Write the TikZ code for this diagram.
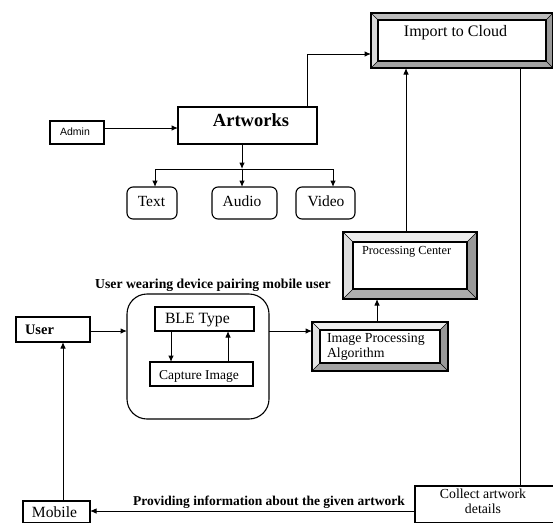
\documentclass[tikz,border=0pt]{standalone}
\usepackage{fontspec}
\setmainfont{Liberation Serif}
\newfontfamily\admfont{Liberation Sans}
\usetikzlibrary{arrows.meta,calc}
\newcommand\fsz[1]{\fontsize{#1}{#1}\selectfont}
% bevelled frame around an (empty) node: #1 name, #2 depth, #3 top, #4 left, #5 right, #6 bottom
\newcommand\bevelframe[6]{%
  \path (#1.north west) coordinate (#1o1) (#1.north east) coordinate (#1o2)
        (#1.south east) coordinate (#1o3) (#1.south west) coordinate (#1o4);
  \path ($(#1o1)+(#2,#2)$) coordinate (#1i1) ($(#1o2)+(-#2,#2)$) coordinate (#1i2)
        ($(#1o3)+(-#2,-#2)$) coordinate (#1i3) ($(#1o4)+(#2,-#2)$) coordinate (#1i4);
  \fill[#3] (#1o1)--(#1o2)--(#1i2)--(#1i1)--cycle;
  \fill[#4] (#1o1)--(#1i1)--(#1i4)--(#1o4)--cycle;
  \fill[#5] (#1o2)--(#1o3)--(#1i3)--(#1i2)--cycle;
  \fill[#6] (#1o4)--(#1i4)--(#1i3)--(#1o3)--cycle;
  \draw[line width=0.6pt] (#1o1)--(#1i1) (#1o2)--(#1i2) (#1o3)--(#1i3) (#1o4)--(#1i4);
  \draw[line width=1.1pt] (#1i1) rectangle (#1i3);
  \draw[line width=1.3pt] (#1o1) rectangle (#1o3);
}
\begin{document}
\begin{tikzpicture}[x=1pt,y=-1pt,
  box/.style={draw, line width=1.1pt, inner sep=0pt, outer sep=0pt},
  rbox/.style={box, rounded corners=6pt},
  frame/.style={inner sep=0pt, outer sep=0pt},
  lbl/.style={inner sep=0pt, outer sep=0pt, anchor=base},
  lbll/.style={inner sep=0pt, outer sep=0pt, anchor=base west},
  ln/.style={line width=1pt},
  arr/.style={ln, -{Latex[length=6.5pt,width=5.5pt]}},
]
\useasboundingbox (0,0) rectangle (553,522);

% ---------- bevelled frames ----------
\node[frame, minimum width=182pt, minimum height=55pt] (cloud) at (462,40.5) {};
\bevelframe{cloud}{7}{black!26}{black!15}{black!40}{black!36}
\node[lbl, font=\fsz{16}] (cloudt) at (455.5,36) {Import to Cloud};

\node[frame, minimum width=134pt, minimum height=67pt] (pc) at (410,265.5) {};
\bevelframe{pc}{10}{black!7}{black!13}{black!40}{black!32}
\node[lbll, font=\fsz{12.3}] (pct) at (362,254) {Processing Center};

\node[frame, minimum width=136pt, minimum height=49pt] (ipa) at (380,346.5) {};
\bevelframe{ipa}{8}{black!7}{black!11}{black!40}{black!36}
\node[lbll, font=\fsz{13.8}] (ipat1) at (327,342) {Image Processing};
\node[lbll, font=\fsz{13.8}] (ipat2) at (327,357) {Algorithm};

% ---------- plain boxes ----------
\node[box, minimum width=139pt, minimum height=37pt] (art) at (247.5,125.5) {};
\node[lbl, font=\bfseries\fsz{18.5}] (artt) at (251,126) {Artworks};

\node[box, minimum width=54pt, minimum height=23pt] (admin) at (77,132.5) {};
\node[lbl, font=\admfont\fsz{10.5}] (admint) at (75,135) {Admin};

\node[rbox, minimum width=50pt, minimum height=32pt] (txtb) at (152,203) {};
\node[lbl, font=\fsz{15.5}] (txtt) at (151.5,206) {Text};
\node[rbox, minimum width=65pt, minimum height=32pt] (aud) at (244.5,203) {};
\node[lbl, font=\fsz{15.5}] (audt) at (242,206) {Audio};
\node[rbox, minimum width=59pt, minimum height=32pt] (vid) at (325.5,203) {};
\node[lbl, font=\fsz{15.5}] (vidt) at (326,206) {Video};

\node[lbl, font=\bfseries\fsz{13.7}] (ttl) at (213,288) {User wearing device pairing mobile user};
\node[box, rounded corners=20pt, minimum width=142pt, minimum height=125pt] (rb) at (198,356.5) {};
\node[box, minimum width=99pt, minimum height=24pt] (ble) at (204.5,319) {};
\node[lbll, font=\fsz{15.7}] (blet) at (165,323) {BLE Type};
\node[box, minimum width=103pt, minimum height=24pt] (cap) at (201.5,374) {};
\node[lbl, font=\fsz{13.5}] (capt) at (199,379) {Capture Image};

\node[box, minimum width=74pt, minimum height=25pt] (user) at (53,329.5) {};
\node[lbll, font=\bfseries\fsz{14.5}] (usert) at (25,334) {User};

\node[box, minimum width=67pt, minimum height=22pt] (mob) at (56.5,512) {};
\node[lbl, font=\fsz{15.6}] (mobt) at (54.5,517) {Mobile};

\node[box, minimum width=139pt, minimum height=37pt] (col) at (484.5,504.5) {};
\node[lbl, font=\fsz{13.8}] (colt1) at (483,498) {Collect artwork};
\node[lbl, font=\fsz{13.8}] (colt2) at (483,513) {details};

% ---------- connectors ----------
\draw[arr] ($(art.north east)+(-10,0)$) |- ($(cloud.west)+(0,13.5)$);
\draw[arr] ($(admin.east)+(0,-4.5)$) coordinate (a1) -- (a1 -| art.west);
\coordinate (br) at (242,169);
\coordinate (brl) at (155,169);
\coordinate (brr) at (333,169);
\draw[arr] (art.south -| br) -- (br);
\draw[ln] (brl) -- (brr);
\draw[arr] (brl) -- (brl |- txtb.north);
\draw[arr] (br) -- (br |- aud.north);
\draw[arr] (brr) -- (brr |- vid.north);

\draw[arr] ($(pc.north)+(-4,0)$) coordinate (p1) -- (p1 |- cloud.south);
\draw[arr] ($(ipa.north)+(-3,0)$) coordinate (p2) -- (p2 |- pc.south);
\draw[arr] ($(rb.east)+(0,-25.5)$) coordinate (p3) -- (p3 -| ipa.west);
\draw[arr] ($(user.east)+(0,1.5)$) coordinate (p4) -- (p4 -| rb.west);
\draw[arr] ($(ble.south west)+(16,0)$) coordinate (p5) -- (p5 |- cap.north);
\draw[arr] ($(cap.north west)+(78,0)$) coordinate (p6) -- (p6 |- ble.south);
\draw[arr] ($(mob.north west)+(40,0)$) coordinate (p7) -- (p7 |- user.south);
\draw[ln] ($(cloud.south east)+(-33,0)$) coordinate (p8) -- (p8 |- col.north);
\draw[arr] ($(col.west)+(0,6.5)$) coordinate (p9) -- (p9 -| mob.east);
\node[lbl, font=\bfseries\fsz{13.5}] (prov) at (269,505) {Providing information about the given artwork};
\end{tikzpicture}
\end{document}
